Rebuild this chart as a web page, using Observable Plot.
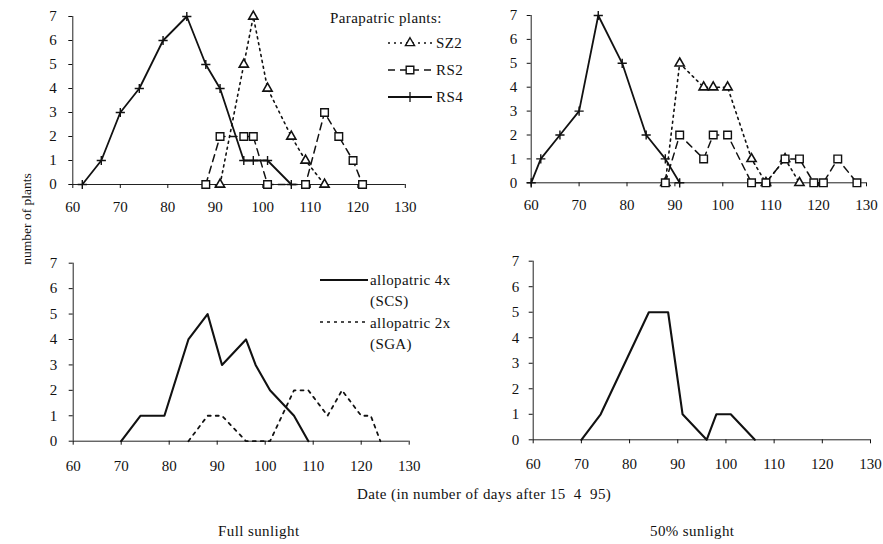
<!DOCTYPE html>
<html><head><meta charset="utf-8">
<script src="https://cdn.jsdelivr.net/npm/d3@7"></script>
<script src="https://cdn.jsdelivr.net/npm/@observablehq/plot@0.6"></script>
<style>
body{margin:0;background:#fff;}
#chart{position:relative;width:883px;height:544px;overflow:hidden;font-family:"Liberation Serif","Times New Roman",serif;background:#fff;}
#chart svg{position:absolute;overflow:visible;}
</style></head><body><div id="chart"></div>
<script>
// tick labels
const xTicks = [60, 70, 80, 90, 100, 110, 120, 130];
const yTicks = [0, 1, 2, 3, 4, 5, 6, 7];

// Full sunlight, parapatric plants
const fullSZ2Days = [91, 96, 98, 101, 106, 109, 113];
const fullSZ2Vals = [0, 5, 7, 4, 2, 1, 0];
const fullRS2Days = [88, 91, 96, 98, 101, 109, 113, 116, 119, 121];
const fullRS2Vals = [0, 2, 2, 2, 0, 0, 3, 2, 1, 0];
const fullRS4Days = [62, 66, 70, 74, 79, 84, 88, 91, 96, 98, 101, 106];
const fullRS4Vals = [0, 1, 3, 4, 6, 7, 5, 4, 1, 1, 1, 0];

// 50% sunlight, parapatric plants
const halfSZ2Days = [88, 91, 96, 98, 101, 106, 109, 113, 116];
const halfSZ2Vals = [0, 5, 4, 4, 4, 1, 0, 1, 0];
const halfRS2Days = [88, 91, 96, 98, 101, 106, 109, 113, 116, 119, 121, 124, 128];
const halfRS2Vals = [0, 2, 1, 2, 2, 0, 0, 1, 1, 0, 0, 1, 0];
const halfRS4Days = [60, 62, 66, 70, 74, 79, 84, 88, 91];
const halfRS4Vals = [0, 1, 2, 3, 7, 5, 2, 1, 0];

// Full sunlight, allopatric plants
const fullSCSDays = [70, 74, 79, 84, 88, 91, 96, 98, 101, 106, 109];
const fullSCSVals = [0, 1, 1, 4, 5, 3, 4, 3, 2, 1, 0];
const fullSGADays = [84, 88, 91, 96, 101, 106, 109, 113, 116, 120, 122, 124];
const fullSGAVals = [0, 1, 1, 0, 0, 2, 2, 1, 2, 1, 1, 0];

// 50% sunlight, allopatric plants
const halfSCSDays = [70, 74, 84, 88, 91, 96, 98, 101, 106];
const halfSCSVals = [0, 1, 5, 5, 1, 0, 1, 1, 0];

const FONT = '"Liberation Serif","Times New Roman",serif';
const table = (days, vals) => days.map((d, i) => ({day: d, n: vals[i]}));

const plusSymbol = {draw(ctx, size) {
  const r = Math.sqrt(size / Math.PI);
  ctx.moveTo(-r, 0); ctx.lineTo(r, 0); ctx.moveTo(0, -r); ctx.lineTo(0, r);
}};

const styles = {
  SZ2: {line: {strokeDasharray: "2,4", strokeWidth: 1.6}, dot: {symbol: "triangle", r: 3.4, fill: "white", stroke: "#111", strokeWidth: 1.6}},
  RS2: {line: {strokeDasharray: "7,5", strokeWidth: 1.5}, dot: {symbol: "square", r: 4.3, fill: "white", stroke: "#111", strokeWidth: 1.4}},
  RS4: {line: {strokeWidth: 1.8}, dot: {symbol: plusSymbol, r: 4.6, fill: "none", stroke: "#111", strokeWidth: 1.4}},
  SCS: {line: {strokeWidth: 2.1}},
  SGA: {line: {strokeDasharray: "3,5", strokeWidth: 1.8}}
};

function seriesMarks(data, key) {
  return [Plot.line(data, {x: "day", y: "n", stroke: "#111", ...styles[key].line})];
}

function panel(o) {
  const svg = Plot.plot({
    width: o.width, height: o.height,
    marginLeft: o.mL, marginRight: o.mR, marginTop: o.mT, marginBottom: o.mB,
    x: {domain: [60, 130]}, y: {domain: [0, 7]},
    style: {fontFamily: FONT, fontSize: "15px", background: "transparent", overflow: "visible", color: "#111"},
    marks: [
      Plot.ruleY([0], {stroke: "#222", strokeWidth: 1}),
      Plot.ruleX([60], {stroke: "#222", strokeWidth: 1}),
      Plot.axisX({ticks: xTicks, tickSize: 4, tickPadding: o.padX, label: null, tickFormat: d => String(d)}),
      Plot.axisY({ticks: yTicks, tickSize: 4, tickPadding: o.padY, label: null, tickFormat: d => String(d)}),
      ...o.marks
    ]
  });
  svg.style.left = o.left + "px";
  svg.style.top = o.top + "px";
  document.getElementById("chart").append(svg);
}

// top-left: full sunlight parapatric
panel({left: 0, top: 0, width: 420, height: 215, mL: 72.3, mR: 15.2, mT: 16, mB: 31, padY: 12, padX: 13,
  marks: [
    ...seriesMarks(table(fullRS2Days, fullRS2Vals), "RS2"),
    ...seriesMarks(table(fullSZ2Days, fullSZ2Vals), "SZ2"),
    ...seriesMarks(table(fullRS4Days, fullRS4Vals), "RS4"),
    Plot.dot(table(fullRS2Days, fullRS2Vals), {x: "day", y: "n", ...styles.RS2.dot}),
    Plot.dot(table(fullSZ2Days, fullSZ2Vals), {x: "day", y: "n", ...styles.SZ2.dot}),
    Plot.dot(table(fullRS4Days, fullRS4Vals), {x: "day", y: "n", ...styles.RS4.dot})
  ]});

// top-right: 50% sunlight parapatric
panel({left: 460, top: 0, width: 420, height: 215, mL: 70.7, mR: 14, mT: 15, mB: 32.7, padY: 10, padX: 13,
  marks: [
    ...seriesMarks(table(halfRS2Days, halfRS2Vals), "RS2"),
    ...seriesMarks(table(halfSZ2Days, halfSZ2Vals), "SZ2"),
    ...seriesMarks(table(halfRS4Days, halfRS4Vals), "RS4"),
    Plot.dot(table(halfSZ2Days, halfSZ2Vals), {x: "day", y: "n", ...styles.SZ2.dot}),
    Plot.dot(table(halfRS2Days, halfRS2Vals), {x: "day", y: "n", ...styles.RS2.dot}),
    Plot.dot(table(halfRS4Days, halfRS4Vals), {x: "day", y: "n", ...styles.RS4.dot})
  ]});

// bottom-left: full sunlight allopatric
panel({left: 0, top: 240, width: 420, height: 232, mL: 72.7, mR: 11.3, mT: 22.7, mB: 31.3, padY: 12, padX: 15,
  marks: [
    ...seriesMarks(table(fullSGADays, fullSGAVals), "SGA"),
    ...seriesMarks(table(fullSCSDays, fullSCSVals), "SCS")
  ]});

// bottom-right: 50% sunlight allopatric
panel({left: 460, top: 240, width: 420, height: 232, mL: 72.7, mR: 10, mT: 20.7, mB: 32.7, padY: 10, padX: 15,
  marks: [
    ...seriesMarks(table(halfSCSDays, halfSCSVals), "SCS")
  ]});

// overlay: legends and labels
const ov = d3.select("#chart").append("svg")
  .attr("width", 883).attr("height", 544)
  .style("left", "0px").style("top", "0px").style("pointer-events", "none")
  .style("font-family", FONT).style("fill", "#111");

function txt(x, y, s, size, extra) {
  const t = ov.append("text").attr("x", x).attr("y", y).text(s)
    .style("font-size", size + "px").style("letter-spacing", "0.4px");
  if (extra) extra(t);
  return t;
}

txt(330, 23, "Parapatric plants:", 15);
const legRows = [
  {key: "SZ2", y: 43, label: "SZ2", sym: d3.symbolTriangle, size: 36},
  {key: "RS2", y: 70, label: "RS2", sym: d3.symbolSquare, size: 58},
  {key: "RS4", y: 97, label: "RS4", sym: null}
];
legRows.forEach(r => {
  const st = styles[r.key];
  ov.append("line").attr("x1", 388).attr("x2", 432).attr("y1", r.y).attr("y2", r.y)
    .attr("stroke", "#111").attr("stroke-width", st.line.strokeWidth)
    .attr("stroke-dasharray", st.line.strokeDasharray || null);
  if (r.sym) {
    ov.append("path").attr("d", d3.symbol(r.sym, r.size)())
      .attr("transform", `translate(410,${r.y})`)
      .attr("fill", "white").attr("stroke", "#111").attr("stroke-width", 1.4);
  } else {
    ov.append("path").attr("d", "M405,97H415M410,92V102").attr("stroke", "#111").attr("stroke-width", 1.3);
  }
  txt(436, r.y + 5, r.label, 15);
});

ov.append("line").attr("x1", 320).attr("x2", 368).attr("y1", 280).attr("y2", 280)
  .attr("stroke", "#111").attr("stroke-width", 2);
txt(370, 285, "allopatric 4x", 15);
txt(370, 306, "(SCS)", 15);
ov.append("line").attr("x1", 320).attr("x2", 368).attr("y1", 322).attr("y2", 322)
  .attr("stroke", "#111").attr("stroke-width", 1.6).attr("stroke-dasharray", "3,4");
txt(370, 328, "allopatric 2x", 15);
txt(370, 349, "(SGA)", 15);

txt(0, 0, "number of plants", 13.5, t => t.attr("x", null).attr("y", null)
  .attr("text-anchor", "middle").attr("transform", "translate(31,219) rotate(-90)").style("letter-spacing", "0px"));
txt(357, 499, "Date (in number of days after 15  4  95)", 15, t => t.attr("xml:space", "preserve").style("white-space", "pre"));
txt(218, 536, "Full sunlight", 15);
txt(650, 536, "50% sunlight", 15);
</script>
</body></html>
